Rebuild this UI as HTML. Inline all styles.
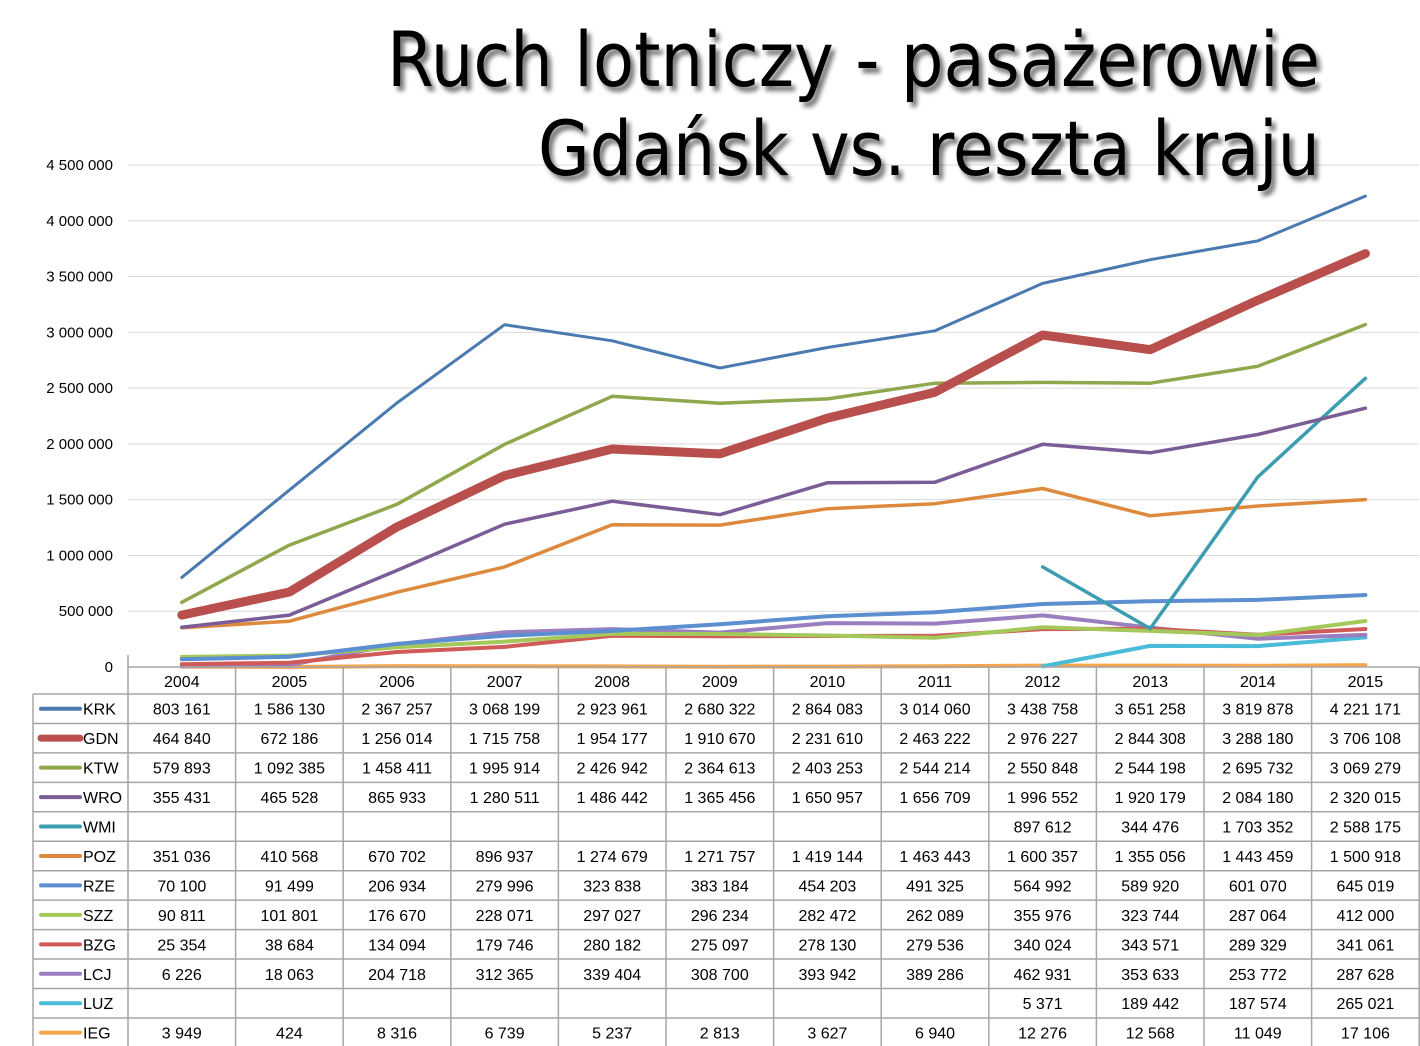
<!DOCTYPE html>
<html><head><meta charset="utf-8"><style>
html,body{margin:0;padding:0;background:#fff;}
svg{display:block;}
</style></head><body>
<svg id="s" width="1420" height="1046" xmlns="http://www.w3.org/2000/svg">
<defs><filter id="sh" x="-5%" y="-5%" width="110%" height="120%"><feGaussianBlur in="SourceAlpha" stdDeviation="2.5"/><feOffset dx="4" dy="5"/><feComponentTransfer><feFuncA type="linear" slope="0.55"/></feComponentTransfer><feMerge><feMergeNode/><feMergeNode in="SourceGraphic"/></feMerge></filter></defs>
<g id="grid"></g>
<g id="lines"></g>
<g id="tbl"></g>
<g filter="url(#sh)" font-family="DejaVu Sans, sans-serif" font-size="76" fill="#000">
<text x="387" y="86" textLength="933" lengthAdjust="spacingAndGlyphs">Ruch lotniczy - pasażerowie</text>
<text x="538" y="175" textLength="782" lengthAdjust="spacingAndGlyphs">Gdańsk vs. reszta kraju</text>
</g>
</svg>
<script>
var NS="http://www.w3.org/2000/svg";
function el(p,t,a,txt){var e=document.createElementNS(NS,t);for(var k in a)e.setAttribute(k,a[k]);if(txt!=null)e.textContent=txt;p.appendChild(e);return e;}
var g=document.getElementById('grid'),L=document.getElementById('lines'),T=document.getElementById('tbl');
function Y(v){return 667-v*502/4500000;}
function X(i){return 181.8+i*107.6;}
var F='Liberation Sans, sans-serif';
for(var k=0;k<=9;k++){var y=Y(k*500000);
 if(k>0)el(g,'line',{x1:128,x2:1419,y1:y,y2:y,stroke:'#d9d9d9','stroke-width':1});
 var s=k==0?'0':(k*500000).toString().replace(/\B(?=(\d{3})+(?!\d))/g,' ');
 el(g,'text',{x:113,y:y+5,'text-anchor':'end','font-family':F,'font-size':15},s);}
var D=[
['KRK','#4a7ab0',3,[803161,1586130,2367257,3068199,2923961,2680322,2864083,3014060,3438758,3651258,3819878,4221171]],
['GDN','#b84f4c',9,[464840,672186,1256014,1715758,1954177,1910670,2231610,2463222,2976227,2844308,3288180,3706108]],
['KTW','#8fa84e',3.5,[579893,1092385,1458411,1995914,2426942,2364613,2403253,2544214,2550848,2544198,2695732,3069279]],
['WRO','#7a5d97',3.5,[355431,465528,865933,1280511,1486442,1365456,1650957,1656709,1996552,1920179,2084180,2320015]],
['WMI','#3d9db0',3.5,[null,null,null,null,null,null,null,null,897612,344476,1703352,2588175]],
['POZ','#de8a3e',3.5,[351036,410568,670702,896937,1274679,1271757,1419144,1463443,1600357,1355056,1443459,1500918]],
['RZE','#5b8fcf',4,[70100,91499,206934,279996,323838,383184,454203,491325,564992,589920,601070,645019]],
['SZZ','#a5c85a',4,[90811,101801,176670,228071,297027,296234,282472,262089,355976,323744,287064,412000]],
['BZG','#d05a57',4,[25354,38684,134094,179746,280182,275097,278130,279536,340024,343571,289329,341061]],
['LCJ','#9b7ec0',4,[6226,18063,204718,312365,339404,308700,393942,389286,462931,353633,253772,287628]],
['LUZ','#4bbcd8',4,[null,null,null,null,null,null,null,null,5371,189442,187574,265021]],
['IEG','#f7a64b',4,[3949,424,8316,6739,5237,2813,3627,6940,12276,12568,11049,17106]]];
var order=[11,10,9,8,7,6,5,4,3,2,0,1];
order.forEach(function(i){var d=D[i],p='';d[3].forEach(function(v,j){if(v==null)return;p+=(p?'L':'M')+X(j).toFixed(1)+' '+Y(v).toFixed(1);});
 el(L,'path',{d:p,fill:'none',stroke:d[1],'stroke-width':d[2],'stroke-linejoin':'round','stroke-linecap':'round'});});
// table
var bc='#a6a6a6';
var RT=694,RH=29.45,cx0=128,cw=107.6;
el(T,'line',{x1:128,x2:1419,y1:667,y2:667,stroke:bc,'stroke-width':1.5});
for(var c=0;c<=12;c++){var x=cx0+c*cw;el(T,'line',{x1:x,x2:x,y1:c==0?655:667,y2:1046,stroke:bc,'stroke-width':1.5});}
el(T,'line',{x1:33,x2:33,y1:RT,y2:1046,stroke:bc,'stroke-width':1.5});
for(var r=0;r<=12;r++){var y=RT+r*RH;el(T,'line',{x1:33,x2:1419,y1:y,y2:y,stroke:bc,'stroke-width':1.5});}
for(var c=0;c<12;c++)el(T,'text',{x:X(c),y:687,'text-anchor':'middle','font-family':F,'font-size':16},String(2004+c));
D.forEach(function(d,r){var cy=RT+r*RH+RH/2;
 el(T,'line',{x1:41,x2:80,y1:cy,y2:cy,stroke:d[1],'stroke-width':r==1?7:4,'stroke-linecap':'round'});
 el(T,'text',{x:83,y:cy+6,'font-family':F,'font-size':16},d[0]);
 d[3].forEach(function(v,j){if(v==null)return;el(T,'text',{x:X(j),y:cy+6,'text-anchor':'middle','font-family':F,'font-size':16},v.toString().replace(/\B(?=(\d{3})+(?!\d))/g,' '));});});
</script>
</body></html>
